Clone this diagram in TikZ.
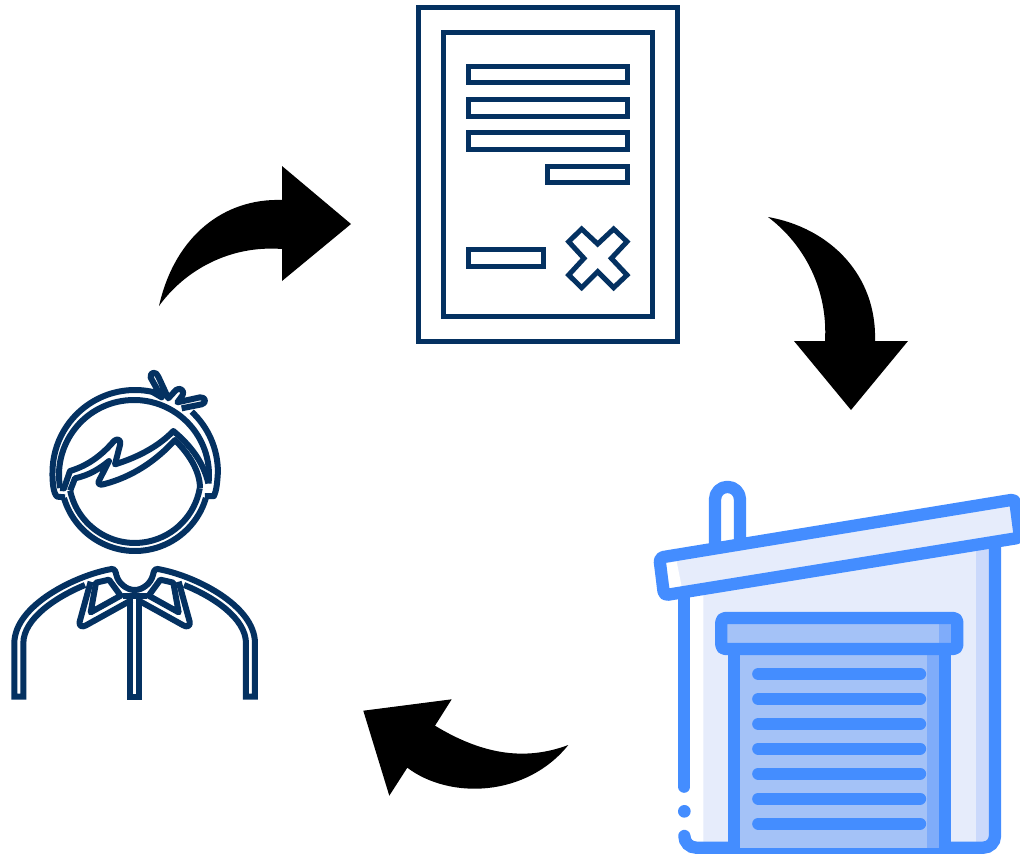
\documentclass[tikz,border=0pt]{standalone}
\definecolor{navy}{RGB}{4,49,97}
\definecolor{gblue}{RGB}{68,141,255}
\definecolor{glight}{RGB}{230,236,251}
\definecolor{gband}{RGB}{203,217,251}
\definecolor{gdoor}{RGB}{164,194,247}
\definecolor{gdark}{RGB}{127,172,250}
\tikzset{
  docline/.style={draw=navy,line width=5pt,miter limit=10},
  manline/.style={draw=navy,line width=6pt,line join=round},
  garline/.style={draw=gblue,line width=12.3pt,line join=round},
  slat/.style={draw=gblue,line width=12.3pt,line cap=round},
  zoomed/.style={x=.33333pt,y=-.33333pt}
}
\begin{document}
\begin{tikzpicture}[x=1pt,y=-1pt]
\useasboundingbox (0,0) rectangle (1020,854);
\fill[white] (0,0) rectangle (1020,854);
\begin{scope}
\clip (0,0) rectangle (1020,854);

% arrows
\fill[black] (159,306) .. controls (175,235) and (225,198) .. (282,200) -- (282,166) -- (351,224) -- (282,281) -- (282,249) .. controls (230,245) and (185,270) .. (159,306) -- cycle;
\fill[black] (768,217) .. controls (830,228) and (877,275) .. (875,341) -- (908,341) -- (851,410) -- (794,341) -- (825,341) .. controls (828,290) and (805,245) .. (768,217) -- cycle;
\fill[black] (451.7,699.3) -- (363.3,710.7) -- (389.3,795.7) -- (407.3,767.7) .. controls (450,800) and (526.7,797) .. (568.3,745) .. controls (523,762) and (480,753) .. (435,725.7) -- cycle;

% document
\begin{scope}[shift={(410,0)},zoomed]
\draw[docline] (24.5,22.5) rectangle (801.5,1025);
\draw[docline] (99.5,97.5) rectangle (726.5,949.5);
\draw[docline] (174.5,198.5) rectangle (651.5,248.5);
\draw[docline] (174.5,298.5) rectangle (651.5,348.5);
\draw[docline] (174.5,398.5) rectangle (651.5,448.5);
\draw[docline] (413.5,498.5) rectangle (651.5,548.5);
\draw[docline] (174.5,749.5) rectangle (400.5,799.5);
\draw[docline] (563,732) -- (515,687) -- (476,725) -- (522,775) -- (476,825) -- (515,863) -- (563,815) -- (611,863) -- (651,825) -- (604,775) -- (651,725) -- (611,687) -- cycle;
\end{scope}

% person: head
\begin{scope}[shift={(40,365)},zoomed]
\draw[manline] (75,397) -- (52,395) .. controls (40,388) and (37,350) .. (37.5,322.5) arc[start angle=180,end angle=282,radius=247.5] -- (365,97) -- (332,38) .. controls (328,20) and (350,18) .. (355,35) -- (385,100) -- (408,75) .. controls (420,65) and (435,78) .. (428,90) -- (412,112) -- (480,97) .. controls (498,95) and (500,115) .. (485,118) -- (425,130);
\draw[manline] (455,140) arc[start angle=313,end angle=360,radius=247.5] .. controls (532,350) and (530,375) .. (522,393) -- (495,393);
\draw[manline] (60.4,369) arc[start angle=170,end angle=366.5,radius=225];
\draw[manline] (60.4,369) -- (72,370) -- (90,318) .. controls (150,300) and (190,265) .. (222,228) .. controls (232,218) and (245,225) .. (240,240) -- (225,298) .. controls (300,275) and (360,240) .. (400,198) .. controls (450,240) and (490,290) .. (505,355);
\draw[manline] (90.5,377) -- (105,340) .. controls (150,330) and (180,310) .. (207,288) -- (178,345) .. controls (170,355) and (180,362) .. (190,358) .. controls (280,335) and (350,285) .. (405,225) .. controls (450,270) and (480,320) .. (480,370);
\draw[manline] (90.5,377) arc[start angle=168,end angle=10,radius=198];
\draw[manline] (72,399) arc[start angle=163.5,end angle=16.5,radius=222];
\end{scope}

% person: body
\begin{scope}[shift={(0,555)},zoomed]
\draw[manline,line join=miter,miter limit=10] (255,90) .. controls (170,125) and (70,190) .. (70,265) -- (70,425) -- (43,425) -- (43,265) .. controls (43,150) and (230,60) .. (335,42) .. controls (345,42) and (347,50) .. (349,60) .. controls (355,85) and (380,105) .. (404,105) .. controls (428,105) and (453,85) .. (459,60) .. controls (461,50) and (463,42) .. (473,42) .. controls (580,60) and (765,150) .. (765,265) -- (765,425) -- (738,425) -- (738,265) .. controls (738,190) and (640,125) .. (552,90);
\draw[manline] (272,80) -- (239,200) .. controls (236,215) and (248,217) .. (258,211) -- (395,135);
\draw[manline] (536,80) -- (569,200) .. controls (572,215) and (560,217) .. (550,211) -- (413,135);
\draw[manline] (288,83) -- (327,74) -- (362,122) -- (272,172) -- cycle;
\draw[manline] (520,83) -- (481,74) -- (446,122) -- (536,172) -- cycle;
\draw[manline,line join=miter] (390,125) -- (390,425) -- (418,425) -- (418,125);
\draw[manline] (368,122) -- (440,122);
\end{scope}

% garage
\begin{scope}[shift={(640,470)},zoomed]
\fill[white] (133,380) rectangle (190,1135);
\fill[glight] (190,370) -- (1065,225) -- (1065,1135) -- (190,1135) -- cycle;
\fill[gband] (1008,230) -- (1065,225) -- (1065,1135) -- (1008,1135) -- cycle;
\draw[garline] (225,235) -- (225,88) arc[start angle=180,end angle=360,radius=37.5] -- (300,215);
\fill[glight] (58,263) -- (1125,88) -- (1140,203) -- (72,376) -- cycle;
\fill[white] (77,280) -- (110,274) -- (125,350) -- (90,357) -- cycle;
\draw[garline,rounded corners=4pt] (58,263) -- (1125,88) -- (1140,203) -- (72,376) -- cycle;
\draw[slat] (133,385) -- (133,950);
\fill[gblue] (133,1024) circle[radius=19];
\draw[slat] (133,1098) arc[start angle=180,end angle=90,radius=35] -- (1030,1133) arc[start angle=90,end angle=0,radius=35] -- (1065,225);
\fill[gdoor] (282,537) rectangle (915,1135);
\fill[gdark] (860,537) rectangle (915,1135);
\draw[garline] (282,537) -- (282,1135);
\draw[garline] (915,537) -- (915,1135);
\fill[gdoor] (244,444) rectangle (952,537);
\fill[gdark] (896,444) rectangle (952,537);
\draw[garline,rounded corners=4pt] (244,444) rectangle (952,537);
\draw[slat] (355,612) -- (840,612);
\draw[slat] (355,687) -- (840,687);
\draw[slat] (355,762) -- (840,762);
\draw[slat] (355,836) -- (840,836);
\draw[slat] (355,911) -- (840,911);
\draw[slat] (355,986) -- (840,986);
\draw[slat] (355,1061) -- (840,1061);
\end{scope}
\end{scope}
\end{tikzpicture}
\end{document}
